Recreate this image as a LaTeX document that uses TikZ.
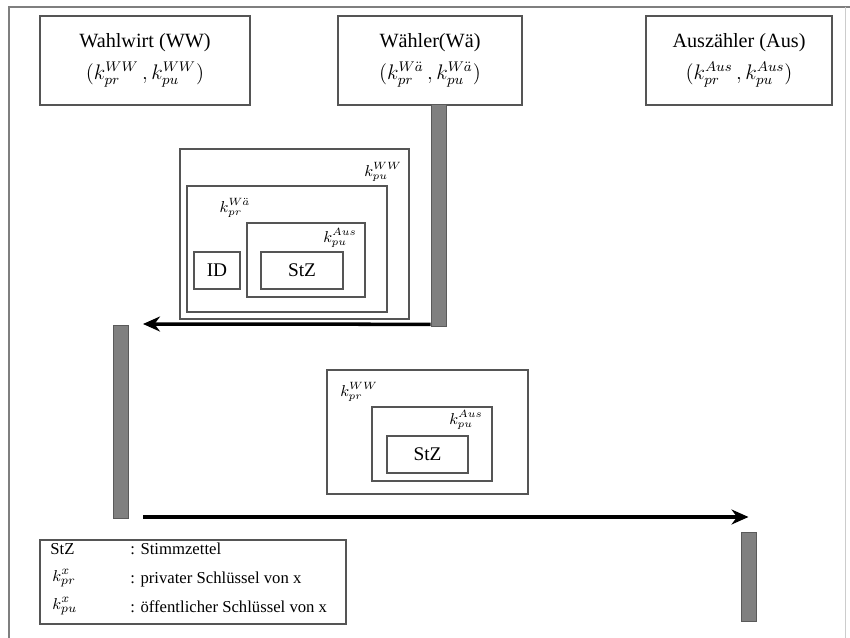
\documentclass[tikz,border=0pt]{standalone}
\usepackage{fontspec}
\setmainfont{Liberation Serif}
\usetikzlibrary{arrows.meta,positioning,fit}
\definecolor{wframe}{HTML}{7F7F7F}
\definecolor{wbar}{HTML}{808080}
\definecolor{wline}{HTML}{555555}
\tikzset{
  hdr/.style={draw=wline, line width=0.9pt, align=center, font=\fontsize{11.5}{15}\selectfont, inner sep=0pt, minimum height=1.78cm},
  env/.style={draw=wline, line width=0.8pt, inner sep=0pt},
  tag/.style={draw=wline, line width=0.8pt, font=\fontsize{11}{13}\selectfont, inner sep=0pt, minimum height=0.74cm},
  bar/.style={draw=wbar!70!black, fill=wbar, inner sep=0pt, minimum width=0.3cm},
  key/.style={font=\small, inner sep=1pt},
  msg/.style={-{Stealth[length=3.4mm,width=3mm]}, line width=2pt},
  leg/.style={font=\fontsize{9.5}{11}\selectfont, anchor=west, inner sep=0pt},
}

\begin{document}
\begin{tikzpicture}[x=0.02cm, y=-0.02cm]
  \useasboundingbox (0,0) rectangle (850,638);
  % page frame
  \draw[wframe, line width=1.5pt] (850,7) -- (9,7) -- (9,638);
  \draw[wframe!40, line width=0.5pt] (845,7) -- (845,638);

  % parties
  \node[hdr, minimum width=4.2cm] (ww) at (145,60.5) {Wahlwirt (WW)\\[3pt]$(k^{WW}_{pr}\,,k^{WW}_{pu})$};
  \node[hdr, minimum width=3.68cm] (wa) at (430,60.5) {Wähler(Wä)\\[3pt]$(k^{W\ddot{a}}_{pr}\,,k^{W\ddot{a}}_{pu})$};
  \node[hdr, minimum width=3.72cm] (aus) at (739,60.5) {Auszähler (Aus)\\[3pt]$(k^{Aus}_{pr}\,,k^{Aus}_{pu})$};

  % activity bars
  \node[bar, minimum height=4.44cm] (barWa) at (438.5,215) {};
  \node[bar, minimum height=3.86cm] (barWW) at (121,421.5) {};
  \node[bar, minimum height=1.78cm] (barAus) at (748.5,576.5) {};

  % envelope to WW
  \node[env, fit={(180,149) (409,319)}] (envA) {};
  \node[env, fit={(187,186) (387,312)}] (envAwa) {};
  \node[env, fit={(247,223) (365,297)}] (envAaus) {};
  \node[tag, minimum width=0.92cm] (id) at (217,270.5) {ID};
  \node[tag, minimum width=1.64cm] (stzA) at (302,270.5) {StZ};
  \node[key] (kA1) at (383,172) {$k^{WW}_{pu}$};
  \node[key] (kA2) at (235,208) {$k^{W\ddot{a}}_{pr}$};
  \node[key] (kA3) at (340,238) {$k^{Aus}_{pu}$};

  % envelope to Aus
  \node[env, fit={(327,370) (528,494)}] (envB) {};
  \node[env, fit={(372,407) (492,481)}] (envBaus) {};
  \node[tag, minimum width=1.62cm] (stzB) at (427.5,454.5) {StZ};
  \node[key] (kB1) at (359,392) {$k^{WW}_{pr}$};
  \node[key] (kB2) at (466,420) {$k^{Aus}_{pu}$};

  % messages
  \coordinate (m1) at (143,324);
  \coordinate (m2) at (143,517);
  \draw[msg] ([yshift=0.04cm]barWa.south west) -- (m1);
  \draw[msg] (m2) -- (barAus.north |- m2);

  % legend
  \node[env, fit={(40,540) (346,624)}] (legend) {};
  \node[leg] (l1) at (50,549) {StZ};
  \node[leg] (l1t) at (130,549) {: Stimmzettel};
  \node[leg] (l2) at (52,578) {$k^{x}_{pr}$};
  \node[leg] (l2t) at (130,579) {: privater Schlüssel von x};
  \node[leg] (l3) at (52,606) {$k^{x}_{pu}$};
  \node[leg] (l3t) at (130,607) {: öffentlicher Schlüssel von x};
\end{tikzpicture}
\end{document}
